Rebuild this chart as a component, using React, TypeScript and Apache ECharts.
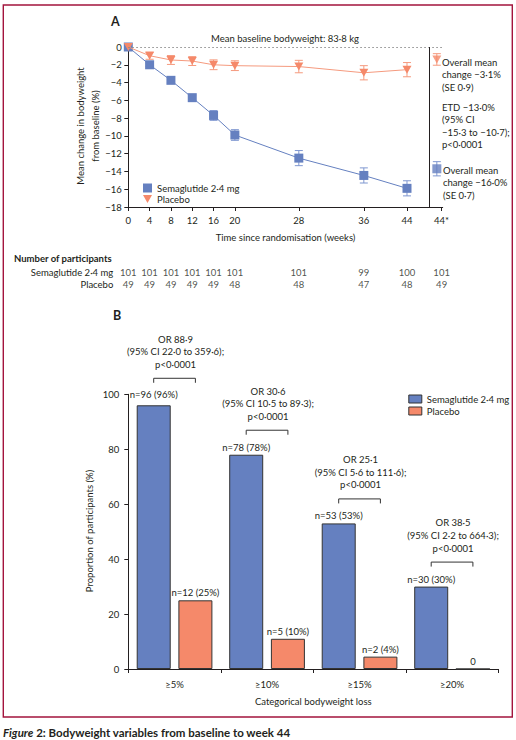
import React, { useEffect, useRef } from "react";
import * as echarts from "echarts";

// ---------- Panel A data ----------
const weekLabels = ["0", "4", "8", "12", "16", "20", "28", "36", "44", "44*"];
// axis position of each week tick (the printed axis is stretched after week 20)
const weekAxisPos = [0, 4, 8, 12, 16, 20, 32, 44.2, 52.3, 58.8];
const semaMean = [0, -2.0, -3.75, -5.7, -7.7, -9.9, -12.5, -14.45, -15.9];
const semaSE = [0, 0.2, 0.3, 0.3, 0.55, 0.6, 0.85, 0.85, 0.85];
const placMean = [0, -0.98, -1.46, -1.58, -2.0, -2.1, -2.2, -2.9, -2.55];
const placSE = [0, 0.4, 0.5, 0.5, 0.55, 0.55, 0.7, 0.8, 0.8];
// overall-mean markers beside the right-hand annotations
const overallMarkerPos = 57.9;
const overallPlacY = -1.4;
const overallPlacErr = 0.65;
const overallSemaY = -13.7;
const overallSemaErr = 0.8;
const dividerPos = 56.4;
const yTicksA = { min: -18, max: 0, interval: 2 };

const semaN = [101, 101, 101, 101, 101, 101, 101, 99, 100, 101];
const placN = [49, 49, 49, 49, 49, 48, 48, 47, 48, 49];
const rowNames = ["Placebo", "Semaglutide 2·4 mg"];

// ---------- Panel B data ----------
const lossCats = ["≥5%", "≥10%", "≥15%", "≥20%"];
const semaPct = [96, 78, 53, 30];
const placPct = [25, 11, 4.5, 0];
const semaBarLabels = ["n=96 (96%)", "n=78 (78%)", "n=53 (53%)", "n=30 (30%)"];
const placBarLabels = ["n=12 (25%)", "n=5 (10%)", "n=2 (4%)", "0"];
const orLines = [
  ["OR 88·9", "(95% CI 22·0 to 359·6);", "p<0·0001"],
  ["OR 30·6", "(95% CI 10·5 to 89·3);", "p<0·0001"],
  ["OR 25·1", "(95% CI 5·6 to 111·6);", "p<0·0001"],
  ["OR 38·5", "(95% CI 2·2 to 664·3);", "p<0·0001"],
];

const FONT = "Lato";
const FS = 9.5;
const TXT = "#231f20";
const BLUE = "#6580c0";
const BLUE_ERR = "#7f97d0";
const ORANGE = "#f5896a";
const ORANGE_LINE = "#f59a7e";
const ORANGE_ERR = "#f59a7e";
const FRAME = "#a3143d";
const TRI = "path://M0,0 L10,0 L5,9 Z";

const minus = (v: number) => (v < 0 ? "−" + Math.abs(v) : String(v));

function errorBarSeries(data: number[][], color: string) {
  return {
    type: "custom",
    xAxisIndex: 0,
    yAxisIndex: 0,
    z: 2,
    silent: true,
    clip: false,
    encode: { x: 0, y: 1 },
    data,
    renderItem: (_p: any, api: any) => {
      const x = api.value(0);
      const y = api.value(1);
      const e = api.value(2);
      if (!e) return null;
      const t = api.coord([x, y + e]);
      const b = api.coord([x, y - e]);
      const w = 4;
      const style = { stroke: color, lineWidth: 1 };
      return {
        type: "group",
        children: [
          { type: "line", shape: { x1: t[0], y1: t[1], x2: b[0], y2: b[1] }, style },
          { type: "line", shape: { x1: t[0] - w, y1: t[1], x2: t[0] + w, y2: t[1] }, style },
          { type: "line", shape: { x1: b[0] - w, y1: b[1], x2: b[0] + w, y2: b[1] }, style },
        ],
      };
    },
  };
}

function buildOption() {
  const semaPts = semaMean.map((v, i) => [weekAxisPos[i], v]);
  const placPts = placMean.map((v, i) => [weekAxisPos[i], v]);
  const semaErr = semaMean.map((v, i) => [weekAxisPos[i], v, semaSE[i]]);
  const placErr = placMean.map((v, i) => [weekAxisPos[i], v, placSE[i]]);
  semaErr.push([overallMarkerPos, overallSemaY, overallSemaErr]);
  placErr.push([overallMarkerPos, overallPlacY, overallPlacErr]);

  const txt = (text: string, x: number, y: number, extra: any = {}) => ({
    type: "text",
    x,
    y,
    silent: true,
    style: {
      text,
      fontFamily: FONT,
      fontSize: FS,
      fill: TXT,
      verticalAlign: "middle",
      align: "left",
      ...extra,
    },
  });

  const annLH = 12.6;
  const rightAnn = [
    ...["Overall mean", "change −3·1%", "(SE 0·9)"].map((t, i) => txt(t, 442, 62 + i * annLH)),
    ...["ETD −13·0%", "(95% CI", "−15·3 to −10·7);", "p<0·0001"].map((t, i) =>
      txt(t, 442, 107 + i * annLH)
    ),
    ...["Overall mean", "change −16·0%", "(SE 0·7)"].map((t, i) => txt(t, 443, 170 + i * annLH)),
  ];

  const xAxisA = {
    type: "value",
    min: 0,
    max: 59,
    axisLine: { onZero: false, lineStyle: { color: TXT, width: 1 } },
    axisTick: { show: true, length: 4, customValues: weekAxisPos, lineStyle: { color: TXT } },
    axisLabel: {
      customValues: weekAxisPos,
      formatter: (v: number) => {
        const idx = weekAxisPos.findIndex((p) => Math.abs(p - v) < 1e-6);
        return idx >= 0 ? weekLabels[idx] : "";
      },
      margin: 8,
      fontFamily: FONT,
      fontSize: FS,
      color: TXT,
    },
    splitLine: { show: false },
    name: "Time since randomisation (weeks)",
    nameLocation: "middle",
    nameGap: 25,
    nameTextStyle: { fontFamily: FONT, fontSize: FS, color: TXT },
  };

  return {
    animation: false,
    textStyle: { fontFamily: FONT, color: TXT },
    grid: [
      { left: 128.3, top: 47, width: 314.4, height: 160 },
      { left: 128.3, top: 266, width: 314.4, height: 24 },
      { left: 128.3, top: 394.3, width: 370, height: 274.7 },
    ],
    xAxis: [
      { ...xAxisA, gridIndex: 0 },
      { type: "value", gridIndex: 1, min: 0, max: 59, show: false },
      {
        type: "category",
        gridIndex: 2,
        data: lossCats,
        axisLine: { lineStyle: { color: TXT, width: 1 } },
        axisTick: { show: true, length: 4, lineStyle: { color: TXT } },
        axisLabel: { margin: 10, fontFamily: FONT, fontSize: FS, color: TXT },
        name: "Categorical bodyweight loss",
        nameLocation: "middle",
        nameGap: 27,
        nameTextStyle: { fontFamily: FONT, fontSize: FS, color: TXT },
      },
    ],
    yAxis: [
      {
        type: "value",
        gridIndex: 0,
        min: yTicksA.min,
        max: yTicksA.max,
        interval: yTicksA.interval,
        axisLine: { show: true, lineStyle: { color: TXT, width: 1 } },
        axisTick: { show: true, length: 4, lineStyle: { color: TXT } },
        axisLabel: { margin: 6.5, fontFamily: FONT, fontSize: FS, color: TXT, formatter: minus },
        splitLine: { show: false },
      },
      {
        type: "category",
        gridIndex: 1,
        data: rowNames,
        axisLine: { show: false },
        axisTick: { show: false },
        axisLabel: { interval: 0, margin: 15, fontFamily: FONT, fontSize: FS, color: TXT },
      },
      {
        type: "value",
        gridIndex: 2,
        min: 0,
        max: 100,
        interval: 20,
        axisLine: { show: true, lineStyle: { color: TXT, width: 1 } },
        axisTick: { show: true, length: 4, lineStyle: { color: TXT } },
        axisLabel: { margin: 9, fontFamily: FONT, fontSize: FS, color: TXT },
        splitLine: { show: false },
      },
    ],
    legend: [
      {
        orient: "vertical",
        left: 138,
        top: 177.5,
        itemWidth: 9,
        itemHeight: 9,
        itemGap: 0,
        itemTextGap: 3,
        selectedMode: false,
        textStyle: { fontFamily: FONT, fontSize: FS, color: TXT, lineHeight: 11 },
        data: [
          { name: "Semaglutide 2·4 mg", icon: "rect", itemStyle: { color: BLUE, borderWidth: 0 } },
          { name: "Placebo", icon: TRI, itemStyle: { color: ORANGE, borderWidth: 0 } },
        ],
      },
      {
        orient: "vertical",
        left: 403.3,
        top: 388,
        itemWidth: 13,
        itemHeight: 8,
        itemGap: 0,
        itemTextGap: 3,
        selectedMode: false,
        textStyle: { fontFamily: FONT, fontSize: FS, color: TXT, lineHeight: 12 },
        data: [
          { name: "Semaglutide 2·4 mg", icon: "rect", itemStyle: { color: BLUE, borderColor: "#333", borderWidth: 1 } },
          { name: "Placebo", icon: "rect", itemStyle: { color: ORANGE, borderColor: "#333", borderWidth: 1 } },
        ],
      },
    ],
    series: [
      errorBarSeries(semaErr, BLUE_ERR),
      errorBarSeries(placErr, ORANGE_ERR),
      {
        name: "Semaglutide 2·4 mg",
        type: "line",
        xAxisIndex: 0,
        yAxisIndex: 0,
        z: 3,
        data: semaPts,
        symbol: "rect",
        symbolSize: 9,
        itemStyle: { color: BLUE },
        lineStyle: { color: BLUE, width: 1 },
        silent: true,
        markLine: {
          silent: true,
          symbol: "none",
          label: { show: false },
          data: [
            { yAxis: 0, lineStyle: { color: "#8a8a8a", type: [1.5, 2.5], width: 1 } },
            { xAxis: dividerPos, lineStyle: { color: TXT, type: "solid", width: 1 } },
          ],
        },
      },
      {
        name: "Placebo",
        type: "line",
        xAxisIndex: 0,
        yAxisIndex: 0,
        z: 4,
        data: placPts,
        symbol: TRI,
        symbolSize: [9, 8],
        itemStyle: { color: ORANGE },
        lineStyle: { color: ORANGE_LINE, width: 1 },
        silent: true,
      },
      {
        type: "scatter",
        xAxisIndex: 0,
        yAxisIndex: 0,
        z: 4,
        silent: true,
        data: [
          { value: [overallMarkerPos, overallPlacY], symbol: TRI, symbolSize: [9, 8], itemStyle: { color: ORANGE } },
          { value: [overallMarkerPos, overallSemaY], symbol: "rect", symbolSize: 9, itemStyle: { color: BLUE } },
        ],
      },
      {
        type: "scatter",
        xAxisIndex: 1,
        yAxisIndex: 1,
        symbolSize: 0,
        silent: true,
        data: [
          ...semaN.map((n, i) => [weekAxisPos[i], 1, n]),
          ...placN.map((n, i) => [weekAxisPos[i], 0, n]),
        ],
        label: {
          show: true,
          position: "inside",
          formatter: (p: any) => String(p.value[2]),
          fontFamily: FONT,
          fontSize: FS,
          color: TXT,
        },
      },
      {
        name: "Semaglutide 2·4 mg",
        type: "bar",
        xAxisIndex: 2,
        yAxisIndex: 2,
        data: semaPct.map((v, i) => (i === 0 ? { value: v, label: { distance: 5.5 } } : v)),
        barWidth: 34,
        barGap: "22.6%",
        silent: true,
        itemStyle: { color: BLUE, borderColor: "#333", borderWidth: 1 },
        label: {
          show: true,
          position: "top",
          distance: 2.5,
          formatter: (p: any) => semaBarLabels[p.dataIndex],
          fontFamily: FONT,
          fontSize: FS,
          color: TXT,
        },
      },
      {
        name: "Placebo",
        type: "bar",
        xAxisIndex: 2,
        yAxisIndex: 2,
        data: placPct,
        barWidth: 34,
        silent: true,
        itemStyle: { color: ORANGE, borderColor: "#333", borderWidth: 1 },
        label: {
          show: true,
          position: "top",
          distance: 2.5,
          formatter: (p: any) => placBarLabels[p.dataIndex],
          fontFamily: FONT,
          fontSize: FS,
          color: TXT,
        },
      },
      {
        type: "custom",
        xAxisIndex: 2,
        yAxisIndex: 2,
        clip: false,
        silent: true,
        z: 5,
        encode: { x: 0, y: 1 },
        data: semaPct.map((v, i) => [i, v]),
        renderItem: (p: any, api: any) => {
          const i = api.value(0);
          const c = api.coord([i, api.value(1)]);
          const half = 20.85;
          const by = c[1] - (p.dataIndex === 0 ? 27 : 24.5);
          const ls = { stroke: "#333", lineWidth: 1, fill: "none" };
          const lines = orLines[p.dataIndex];
          return {
            type: "group",
            children: [
              {
                type: "polyline",
                shape: {
                  points: [
                    [c[0] - half, by + 4.5],
                    [c[0] - half, by],
                    [c[0] + half, by],
                    [c[0] + half, by + 4.5],
                  ],
                },
                style: ls,
              },
              ...lines.map((t: string, k: number) => ({
                type: "text",
                style: {
                  text: t,
                  x: c[0] + 1,
                  y: by - 14 - (2 - k) * 12.6,
                  align: "center",
                  verticalAlign: "middle",
                  fontFamily: FONT,
                  fontSize: FS,
                  fill: TXT,
                },
              })),
            ],
          };
        },
      },
    ],
    graphic: [
      {
        type: "rect",
        silent: true,
        shape: { x: 3.3, y: 5, width: 509, height: 712 },
        style: { fill: "none", stroke: FRAME, lineWidth: 1.4 },
      },
      txt("A", 111, 21.5, { fontSize: 12.5, fontWeight: "bold" }),
      txt("B", 113, 315, { fontSize: 12.5, fontWeight: "bold" }),
      txt("Mean baseline bodyweight: 83·8 kg", 285, 38, { align: "center" }),
      ...rightAnn,
      txt("Number of participants", 14, 258, { fontWeight: "bold" }),
      {
        type: "text",
        x: 88,
        y: 126,
        rotation: Math.PI / 2,
        silent: true,
        style: {
          text: "Mean change in bodyweight\nfrom baseline (%)",
          fontFamily: FONT,
          fontSize: FS,
          lineHeight: 15,
          fill: TXT,
          align: "center",
          verticalAlign: "middle",
        },
      },
      {
        type: "text",
        x: 89,
        y: 531,
        rotation: Math.PI / 2,
        silent: true,
        style: {
          text: "Proportion of participants (%)",
          fontFamily: FONT,
          fontSize: FS,
          fill: TXT,
          align: "center",
          verticalAlign: "middle",
        },
      },
      {
        type: "text",
        x: 3,
        y: 732.5,
        silent: true,
        style: {
          text: "{i|Figure} 2: Bodyweight variables from baseline to week 44",
          fontFamily: FONT,
          fontSize: 11.5,
          fontWeight: "bold",
          fill: TXT,
          verticalAlign: "middle",
          rich: {
            i: { fontFamily: FONT, fontSize: 11.5, fontWeight: "bold", fontStyle: "italic", fill: TXT },
          },
        },
      },
    ],
  };
}

export default function App() {
  const ref = useRef<HTMLDivElement>(null);
  useEffect(() => {
    document.body.style.margin = "0";
    const chart = echarts.init(ref.current!, null, { renderer: "svg" });
    chart.setOption(buildOption() as any);
    return () => chart.dispose();
  }, []);
  return <div ref={ref} style={{ width: 516, height: 740 }} />;
}
